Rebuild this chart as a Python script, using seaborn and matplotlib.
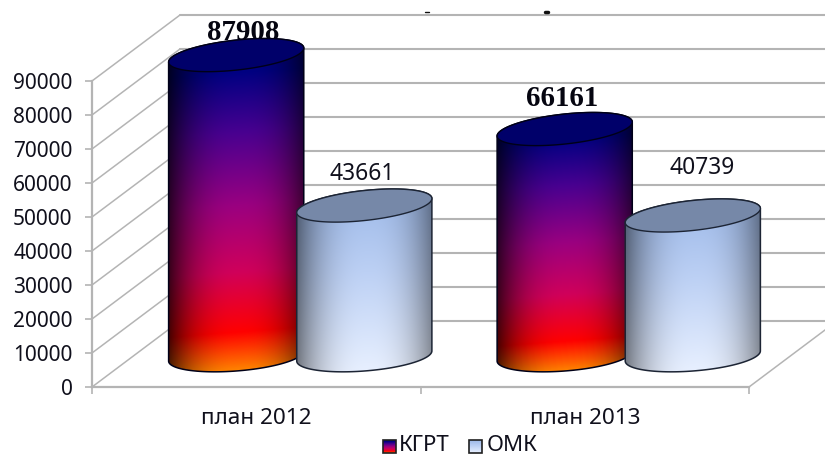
import numpy as np
import pandas as pd
import matplotlib
matplotlib.use("Agg")
import matplotlib.pyplot as plt
from matplotlib.colors import LinearSegmentedColormap
from matplotlib.patches import Polygon, Rectangle
import seaborn as sns

categories = ["план 2012", "план 2013"]
series = ["КГРТ", "ОМК"]
kgrt = [87908, 66161]
omk = [43661, 40739]
yticks = list(range(0, 90001, 10000))

W, H = 825, 455
sns.set_theme(style="white")
plt.rcParams["font.family"] = ["Noto Sans", "DejaVu Sans"]
TEXT = "#10101c"
LINE = "#b4b4b4"

fig = plt.figure(figsize=(W / 100, H / 100), dpi=100, facecolor="white")
ax = fig.add_axes([92 / W, (H - 387) / H, 657 / W, 306 / H], facecolor="none")
canvas = fig.add_axes([0, 0, 1, 1], facecolor="none", zorder=3)
canvas.set_axis_off()

df = pd.DataFrame({
    "cat": categories * 2,
    "series": [series[0]] * 2 + [series[1]] * 2,
    "value": kgrt + omk,
})
sns.barplot(df, x="cat", y="value", hue="series", hue_order=series, order=categories,
            width=0.78, legend=False, ax=ax, errorbar=None, dodge=True)
ax.set_xlim(-0.5, 1.5)
ax.set_ylim(0, 90000)
ax.set_xlabel("")
ax.set_ylabel("")
ax.set_yticks(yticks)
ax.set_xticks([-0.5, 0.5, 1.5])
ax.set_xticks([0, 1], categories, minor=True)
ax.set_xticklabels(["", "", ""])
ax.tick_params(axis="x", which="major", length=5, width=1.2, color=LINE, bottom=True)
ax.tick_params(axis="x", which="minor", length=0, pad=15, labelsize=16.2, labelcolor=TEXT, bottom=True)
ax.tick_params(axis="y", length=5, width=1.2, color=LINE, pad=9, labelsize=15, labelcolor=TEXT, left=True)
for s in ["top", "right"]:
    ax.spines[s].set_visible(False)
for s in ["left", "bottom"]:
    ax.spines[s].set_color(LINE)
    ax.spines[s].set_linewidth(1.6)

fig.canvas.draw()
to_px = ax.transData.transform
WALL_DX, WALL_DY = 88, 66
CYL_DX, CYL_DY = 44, 33
BASE_SHIFT = -2
DIAM_SCALE = 1.055
TILT = 0.104
BASE_TILT = 0.075
MINOR = 15.0

x0, x1 = -0.5, 1.5
for v in yticks:
    (lx, ly) = to_px((x0, v))
    (rx, ry) = to_px((x1, v))
    canvas.plot([lx, lx + WALL_DX], [ly, ly + WALL_DY], color=LINE, lw=1.1, zorder=1)
    canvas.plot([lx + WALL_DX, rx + WALL_DX], [ly + WALL_DY] * 2, color=LINE, lw=1.5, zorder=1)
(rx, ry) = to_px((x1, 0))
canvas.plot([rx, rx + WALL_DX], [ry, ry + WALL_DY], color=LINE, lw=1.1, zorder=1)

fire = LinearSegmentedColormap.from_list("fire", [
    (0.0, "#ff8a00"), (0.12, "#ff0000"), (0.30, "#d0005a"), (0.50, "#9a0080"),
    (0.72, "#480090"), (0.90, "#000082"), (1.0, "#000074")])
ice = LinearSegmentedColormap.from_list("ice", [
    (0.0, "#e8f0ff"), (0.55, "#bcd0f4"), (1.0, "#9cb8e8")])
styles = {
    series[0]: dict(cmap=fire, top="#00006a", edge="#000018", dark=0.72, bold=True),
    series[1]: dict(cmap=ice, top="#7688a8", edge="#1c2434", dark=0.5, bold=False),
}
label_offsets = {
    (0, 0): (7, 23), (1, 0): (-3, 31),
    (0, 1): (-2, 32), (1, 1): (9, 47),
}


def arc(cx, cy, a, t, k):
    return np.column_stack([cx + a * np.cos(t), cy + MINOR * np.sin(t) + k * a * np.cos(t)])


containers = dict(zip(series, ax.containers))
for i, cat in enumerate(categories):
    for j, name in enumerate(series):
        bar = containers[name][i]
        st = styles[name]
        mid = bar.get_x() + bar.get_width() / 2
        (bx, by) = to_px((mid, 0))
        (tx, ty) = to_px((mid, bar.get_height()))
        (ex, _) = to_px((bar.get_x() + bar.get_width(), 0))
        a = (ex - bx) * DIAM_SCALE
        bar.set_alpha(0)
        cx = bx + CYL_DX
        base = by + CYL_DY + BASE_SHIFT
        top = ty + CYL_DY
        pad = np.sqrt(MINOR ** 2 + (TILT * a) ** 2)

        upper = arc(cx, top, a, np.linspace(np.pi, 0, 80), TILT)
        lower = arc(cx, base, a, np.linspace(0, -np.pi, 80), BASE_TILT)
        outline = np.vstack([upper, lower])

        span = top - base + 2 * pad
        gx, gy = np.meshgrid(np.linspace(cx - a, cx + a, int(2 * a) * 2),
                             np.linspace(base - pad, top + pad, int(span) * 2))
        frac = (gy - (base - pad) - BASE_TILT * (gx - cx)) / span
        rgb = st["cmap"](np.clip(frac, 0, 1))[..., :3]
        u = (gx - cx) / a - 0.03
        shade = 1 - st["dark"] * np.clip(np.abs(u) / 1.03, 0, 1) ** 2.5
        rgb = rgb * shade[..., None]
        im = canvas.imshow(rgb, origin="lower", aspect="auto", zorder=3 + i + j * 0.1,
                           extent=[cx - a, cx + a, base - pad, top + pad],
                           interpolation="bilinear")
        body = Polygon(outline, closed=True, fc="none", ec=st["edge"], lw=1.1, zorder=3.02 + i + j * 0.1)
        canvas.add_patch(body)
        im.set_clip_path(body)
        face = arc(cx, top, a, np.linspace(0, 2 * np.pi, 160), TILT)
        canvas.add_patch(Polygon(face, closed=True, fc=st["top"], ec=st["edge"], lw=1.0,
                                 zorder=3.05 + i + j * 0.1))
        dx, dy = label_offsets[(i, j)]
        value = int(bar.get_height())
        if st["bold"]:
            canvas.text(cx + dx, top + dy, str(value), ha="center", va="center", zorder=2,
                        fontsize=20.8, fontweight="bold", family="Liberation Serif", color="#050510")
        else:
            canvas.text(cx + dx, top + dy, str(value), ha="center", va="center", zorder=2,
                        fontsize=16.4, color=TEXT)

# legend
legend_x = [383, 469]
legend_text_x = [399, 487]
swatch_y, swatch_h, swatch_w = 2, 13, 13
for name, lx, ltx in zip(series, legend_x, legend_text_x):
    st = styles[name]
    grad = st["cmap"](np.linspace(0, 1, 40))[:, :3][:, None, :]
    canvas.imshow(grad, origin="lower", aspect="auto", zorder=5,
                  extent=[lx, lx + swatch_w, swatch_y, swatch_y + swatch_h])
    canvas.add_patch(Rectangle((lx, swatch_y), swatch_w, swatch_h, fc="none", ec="#202020", lw=1.2, zorder=6))
    canvas.text(ltx, swatch_y + swatch_h / 2 + 1, name, ha="left", va="center",
                fontsize=16, color=TEXT, zorder=6)

# clipped remnants of a cut-off title above the plot
canvas.plot([425, 429], [H - 12, H - 12], color="#101010", lw=1.0, zorder=2)
canvas.plot([545, 548], [H - 12, H - 12], color="#101010", lw=2.5, zorder=2)

canvas.set_xlim(0, W)
canvas.set_ylim(0, H)
fig.savefig("out.png", dpi=100)
